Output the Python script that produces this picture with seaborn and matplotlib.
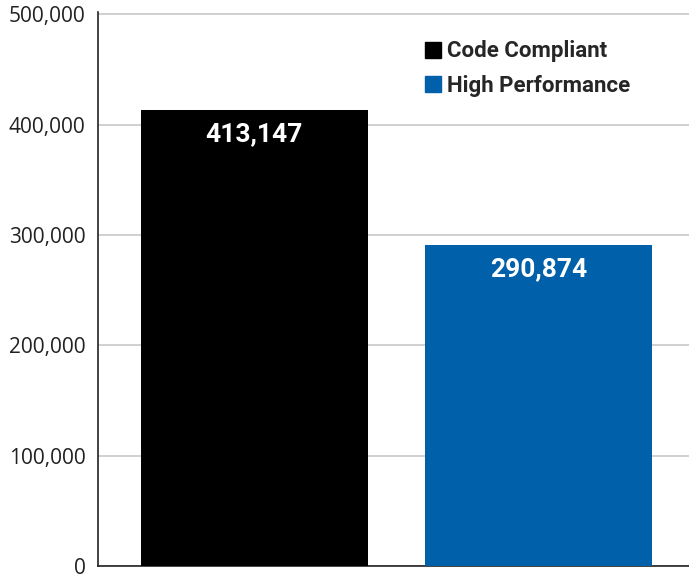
import pandas as pd
import matplotlib.pyplot as plt
import seaborn as sns
from matplotlib.lines import Line2D
from matplotlib.ticker import FuncFormatter

# chart values
categories = ['Code Compliant', 'High Performance']
values = [413147, 290874]
colors = ['#000000', '#0060a9']
yticks = [0, 100000, 200000, 300000, 400000, 500000]

df = pd.DataFrame({'Design': categories, 'Value': values})

sns.set_style('white')
plt.rcParams['font.family'] = ['Open Sans', 'DejaVu Sans']

fig = plt.figure(figsize=(6.89, 5.78), dpi=100)
ax = fig.add_axes([98 / 689, 12 / 578, 591 / 689, 554 / 578])

sns.barplot(data=df, x='Design', y='Value', hue='Design', palette=colors,
            width=0.8, saturation=1, legend=False, linewidth=0, ax=ax, zorder=3)

ax.set_ylim(0, 502000)
ax.set_xlim(-0.55, 1.53)
ax.set_yticks(yticks)
ax.yaxis.set_major_formatter(FuncFormatter(lambda v, p: f'{int(v):,}'))
ax.tick_params(axis='y', labelsize=15, colors='#222222', length=0, pad=9)
ax.set_xticks([])
ax.set_xlabel('')
ax.set_ylabel('')
ax.grid(axis='y', color='#c8c8c8', linewidth=1.2, zorder=0)

for s in ['top', 'right']:
    ax.spines[s].set_visible(False)
ax.spines['left'].set_color('#222222')
ax.spines['bottom'].set_color('#222222')
ax.spines['left'].set_linewidth(1.2)
ax.spines['bottom'].set_linewidth(1.2)

# value labels inside bars
for i, v in enumerate(values):
    ax.text(i, v - 22000, f'{v:,}', ha='center', va='center', color='white',
            fontsize=19, fontweight='bold', family='Roboto', zorder=5)

handles = [Line2D([], [], marker='s', linestyle='', markersize=11,
                  markerfacecolor=c, markeredgecolor=c) for c in colors]
leg = ax.legend(handles, categories, loc='upper left', bbox_to_anchor=(0.512, 0.985),
                frameon=False, handletextpad=0.1, handlelength=1.1,
                labelspacing=0.55, prop={'family': 'Roboto', 'weight': 'bold', 'size': 16})

fig.savefig('out.png', dpi=100)
